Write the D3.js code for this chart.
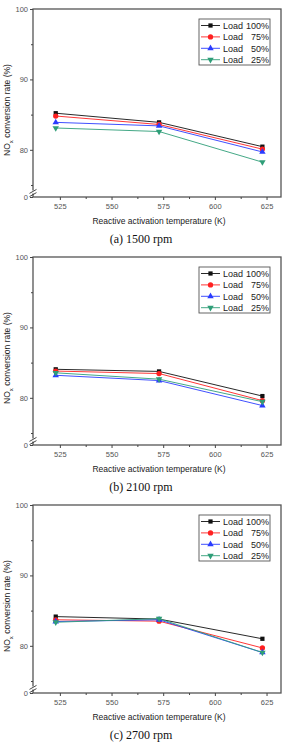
<!DOCTYPE html>
<html lang="en">
<head>
  <meta charset="utf-8">
  <title>NOx conversion rate</title>
  <script src="https://cdn.jsdelivr.net/npm/d3@7"></script>
  <style>
    body { margin: 0; background: #fff; font-family: "Liberation Sans", Arial, sans-serif; }
  </style>
</head>
<body>
<div id="chart"></div>
<script>

const w = 288;
const h = 743;

// x positions of measurements (K)
const temps = [523, 573, 623];
const xTicks = [525, 550, 575, 600, 625];
const yTicks = [80, 90, 100];
const loadLabels = ["100%", "75%", "50%", "25%"];
const colors = ["#111111", "#ff2020", "#2a3cff", "#2f9e78"];
const symbols = [d3.symbolSquare, d3.symbolCircle, d3.symbolTriangle, d3.symbolTriangle];
const titles = ["(a) 1500 rpm", "(b) 2100 rpm", "(c) 2700 rpm"];

// NOx conversion rate (%), one array per load and engine speed
const load100_1500 = [85.2, 83.9, 80.45];
const load75_1500  = [84.8, 83.6, 80.1];
const load50_1500  = [83.9, 83.4, 79.7];
const load25_1500  = [83.1, 82.6, 78.25];

const load100_2100 = [84.05, 83.75, 80.25];
const load75_2100  = [83.8, 83.45, 79.6];
const load50_2100  = [83.2, 82.45, 78.9];
const load25_2100  = [83.55, 82.65, 79.45];

const load100_2700 = [84.15, 83.8, 81.0];
const load75_2700  = [83.7, 83.5, 79.7];
const load50_2700  = [83.45, 83.7, 79.05];
const load25_2700  = [83.35, 83.85, 79.05];

const panels = [
  [load100_1500, load75_1500, load50_1500, load25_1500],
  [load100_2100, load75_2100, load50_2100, load25_2100],
  [load100_2700, load75_2700, load50_2700, load25_2700]
];

const panelStep = 248;
const plotTop = 9;
const plotH = 188;
const left = 33, right = 281;
const yBreak = 73.3;   // bottom of the broken axis, labelled "0"

const svg = d3.select("#chart").append("svg")
  .attr("width", w)
  .attr("height", h);

const x = d3.scaleLinear().domain([512, 632]).range([left, right]);

panels.forEach((series, p) => {
  const g = svg.append("g").attr("transform", `translate(0,${p * panelStep})`);
  const y = d3.scaleLinear().domain([yBreak, 100]).range([plotTop + plotH, plotTop]);

  // frame
  g.append("rect")
    .attr("x", left).attr("y", plotTop)
    .attr("width", right - left).attr("height", plotH)
    .attr("fill", "none").attr("stroke", "#555").attr("stroke-width", 1.3);

  // x axis
  const xAxis = g.append("g")
    .attr("transform", `translate(0,${plotTop + plotH})`)
    .call(d3.axisBottom(x).tickValues(xTicks).tickSize(3).tickPadding(4));
  xAxis.select(".domain").remove();
  xAxis.selectAll("line").attr("stroke", "#444");
  xAxis.selectAll("text").attr("font-size", 7.5).attr("fill", "#555")
    .attr("font-family", "Liberation Sans, Arial, sans-serif");
  g.append("g")
    .attr("transform", `translate(0,${plotTop + plotH})`)
    .call(d3.axisBottom(x).tickValues([537.5, 562.5, 587.5, 612.5]).tickSize(2).tickFormat(""))
    .call(a => a.select(".domain").remove())
    .selectAll("line").attr("stroke", "#444");

  // y axis
  const yAxis = g.append("g")
    .attr("transform", `translate(${left},0)`)
    .call(d3.axisLeft(y).tickValues(yTicks.concat([yBreak]))
      .tickFormat(d => d === yBreak ? "0" : d).tickSize(3).tickPadding(2));
  yAxis.select(".domain").remove();
  yAxis.selectAll("line").attr("stroke", "#444");
  yAxis.selectAll("text").attr("font-size", 7.5).attr("fill", "#555")
    .attr("font-family", "Liberation Sans, Arial, sans-serif");
  g.append("g")
    .attr("transform", `translate(${left},0)`)
    .call(d3.axisLeft(y).tickValues([75, 85, 95]).tickSize(2).tickFormat(""))
    .call(a => a.select(".domain").remove())
    .selectAll("line").attr("stroke", "#444");

  // axis break mark
  const by = y(yBreak) - 4;
  g.append("rect").attr("x", left - 1.5).attr("y", by - 2.5).attr("width", 3).attr("height", 3)
    .attr("fill", "#fff");
  [-1.6, 1.6].forEach(dy => {
    g.append("line")
      .attr("x1", left - 3.5).attr("y1", by + dy + 2)
      .attr("x2", left + 3.5).attr("y2", by + dy - 2)
      .attr("stroke", "#333").attr("stroke-width", 0.9);
  });

  // lines and markers
  const line = d3.line().x((d, i) => x(temps[i])).y(d => y(d));
  series.forEach((vals, s) => {
    g.append("path")
      .attr("d", line(vals))
      .attr("fill", "none")
      .attr("stroke", colors[s])
      .attr("stroke-width", 0.9);
    g.selectAll(null)
      .data(vals)
      .enter()
      .append("path")
      .attr("d", d3.symbol().type(symbols[s]).size(s === 1 ? 22 : 18))
      .attr("transform", (d, i) => `translate(${x(temps[i])},${y(d)})${s === 3 ? " rotate(180)" : ""}`)
      .attr("fill", colors[s]);
  });

  // legend
  const lg = g.append("g").attr("transform", `translate(199,${plotTop + 10})`);
  lg.append("rect").attr("width", 71).attr("height", 46)
    .attr("fill", "#fff").attr("stroke", "#555").attr("stroke-width", 0.9);
  loadLabels.forEach((lab, s) => {
    const ry = 6.5 + s * 11.4;
    lg.append("line").attr("x1", 2).attr("x2", 21).attr("y1", ry).attr("y2", ry)
      .attr("stroke", colors[s]).attr("stroke-width", 0.9);
    lg.append("path")
      .attr("d", d3.symbol().type(symbols[s]).size(s === 1 ? 22 : 18))
      .attr("transform", `translate(11.5,${ry})${s === 3 ? " rotate(180)" : ""}`)
      .attr("fill", colors[s]);
    lg.append("text").attr("x", 24).attr("y", ry + 3.3)
      .attr("font-size", 9).attr("fill", "#222").text("Load");
    lg.append("text").attr("x", 70).attr("y", ry + 3.3)
      .attr("text-anchor", "end")
      .attr("font-size", 9).attr("fill", "#222").text(lab);
  });

  // axis titles
  g.append("text")
    .attr("x", (left + right) / 2 + 2).attr("y", 224)
    .attr("text-anchor", "middle")
    .attr("font-size", 8.5).attr("fill", "#222")
    .text("Reactive activation temperature (K)");

  const yl = g.append("text")
    .attr("transform", `translate(10,${plotTop + 101}) rotate(-90)`)
    .attr("text-anchor", "middle")
    .attr("font-size", 8.5).attr("fill", "#222");
  yl.append("tspan").text("NO");
  yl.append("tspan").attr("font-size", 6).attr("dy", 2.5).text("x");
  yl.append("tspan").attr("dy", -2.5).text(" conversion  rate (%)");

  g.append("text")
    .attr("x", 141).attr("y", 243)
    .attr("text-anchor", "middle")
    .attr("font-family", "Liberation Serif, Times New Roman, serif")
    .attr("font-size", 12).attr("fill", "#111")
    .text(titles[p]);
});

</script>
</body>
</html>
